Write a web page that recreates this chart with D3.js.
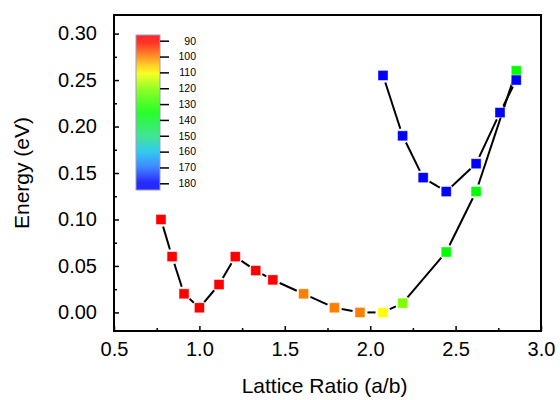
<!DOCTYPE html>
<html>
<head>
<meta charset="utf-8">
<script src="https://cdn.jsdelivr.net/npm/d3@7"></script>
<style>
  body { margin: 0; background: #fff; }
  svg text { font-family: "Liberation Sans", Arial, sans-serif; }
</style>
</head>
<body>
<div id="chart"></div>
<script>
// lower branch (a/b, energy, angle in degrees)
const lowRatio  = [0.775, 0.84, 0.91, 1.0, 1.115, 1.21, 1.33, 1.43, 1.61, 1.79, 1.94, 2.075, 2.19, 2.445, 2.62, 2.855];
const lowEnergy = [0.100, 0.060, 0.020, 0.005, 0.030, 0.060, 0.045, 0.035, 0.020, 0.005, 0.000, 0.000, 0.010, 0.065, 0.130, 0.260];
const lowAngle  = [90, 90, 90, 90, 90, 90, 90, 90, 100, 100, 100, 110, 120, 135, 135, 135];

// upper branch
const highRatio  = [2.075, 2.19, 2.31, 2.445, 2.62, 2.76, 2.855];
const highEnergy = [0.255, 0.190, 0.145, 0.130, 0.160, 0.215, 0.250];
const highAngle  = [180, 180, 180, 180, 180, 180, 180];

const xTicks = [0.5, 1.0, 1.5, 2.0, 2.5, 3.0];
const yTicks = [0.00, 0.05, 0.10, 0.15, 0.20, 0.25, 0.30];
const barTicks = [90, 100, 110, 120, 130, 140, 150, 160, 170, 180];

// dimensions
const W = 560, H = 400;
const plot = { left: 114, right: 541, top: 15, bottom: 331 };

const svg = d3.select('#chart').append('svg')
    .attr('width', W).attr('height', H);

const xScale = d3.scaleLinear().domain([0.5, 3.0]).range([plot.left, plot.right]);
const yScale = d3.scaleLinear().domain([-0.02, 0.32]).range([plot.bottom, plot.top]);

// rainbow colormap used for the symbols
const color = d3.scaleLinear()
    .domain([90, 100, 110, 120, 135, 150, 160, 170, 180])
    .range(['#ff0000', '#ff8000', '#ffff00', '#80ff00', '#00ff00', '#20e080', '#10c0f0', '#2070ff', '#0000ff']);

// axes
const xAxisGroup = svg.append('g').attr('transform', `translate(0, ${plot.bottom})`);
xAxisGroup.call(d3.axisBottom(xScale).tickValues(xTicks).tickFormat(d3.format('.1f'))
    .tickSize(-5).tickSizeOuter(0).tickPadding(11));
const xMinor = svg.append('g').attr('transform', `translate(0, ${plot.bottom})`);
xMinor.call(d3.axisBottom(xScale).tickValues(d3.range(0.75, 3.0, 0.5)).tickFormat('')
    .tickSize(-3).tickSizeOuter(0));

const yAxisGroup = svg.append('g').attr('transform', `translate(${plot.left}, 0)`);
yAxisGroup.call(d3.axisLeft(yScale).tickValues(yTicks).tickFormat(d3.format('.2f'))
    .tickSize(-5).tickSizeOuter(0).tickPadding(17));
const yMinor = svg.append('g').attr('transform', `translate(${plot.left}, 0)`);
yMinor.call(d3.axisLeft(yScale).tickValues(d3.range(0.025, 0.32, 0.05).map(v => +v.toFixed(3))).tickFormat('')
    .tickSize(-3).tickSizeOuter(0));

svg.selectAll('.domain').remove();
svg.selectAll('.tick line').attr('stroke', '#000').attr('stroke-width', 1.5);
xAxisGroup.selectAll('text').attr('font-size', 20).attr('fill', '#000');
yAxisGroup.selectAll('text').attr('font-size', 20).attr('fill', '#000');

// frame
svg.append('rect')
    .attr('x', plot.left).attr('y', plot.top)
    .attr('width', plot.right - plot.left).attr('height', plot.bottom - plot.top)
    .attr('fill', 'none').attr('stroke', '#000').attr('stroke-width', 2);

// axis titles
svg.append('text')
    .attr('x', (plot.left + plot.right) / 2 - 3).attr('y', 393)
    .attr('text-anchor', 'middle').attr('font-size', 21)
    .text('Lattice Ratio (a/b)');
svg.append('text')
    .attr('transform', `translate(29, ${(plot.top + plot.bottom) / 2}) rotate(-90)`)
    .attr('text-anchor', 'middle').attr('font-size', 21)
    .text('Energy (eV)');

// connecting lines, with a small gap around each symbol
const elementGroup = svg.append('g');
const gap = 7.5;
function drawSegments(xs, ys) {
    for (let i = 0; i < xs.length - 1; i++) {
        const x1 = xScale(xs[i]), y1 = yScale(ys[i]);
        const x2 = xScale(xs[i + 1]), y2 = yScale(ys[i + 1]);
        const len = Math.hypot(x2 - x1, y2 - y1);
        if (len <= 2 * gap) continue;
        const ux = (x2 - x1) / len, uy = (y2 - y1) / len;
        elementGroup.append('line')
            .attr('x1', x1 + ux * gap).attr('y1', y1 + uy * gap)
            .attr('x2', x2 - ux * gap).attr('y2', y2 - uy * gap)
            .attr('stroke', '#000').attr('stroke-width', 2);
    }
}
drawSegments(lowRatio, lowEnergy);
drawSegments(highRatio, highEnergy);

// symbols
const sq = 10;
function drawSymbols(xs, ys, angles) {
    elementGroup.selectAll(null)
        .data(xs.map((x, i) => ({ x: x, e: ys[i], a: angles[i] })))
        .enter()
        .append('rect')
        .attr('x', d => xScale(d.x) - sq / 2)
        .attr('y', d => yScale(d.e) - sq / 2)
        .attr('width', sq).attr('height', sq)
        .attr('fill', d => color(d.a))
        .attr('stroke', '#fff').attr('stroke-opacity', 0.5).attr('stroke-width', 0.8);
}
drawSymbols(lowRatio, lowEnergy, lowAngle);
drawSymbols(highRatio, highEnergy, highAngle);

// colour bar
const bar = { x: 136, y: 35, w: 24, h: 155 };
const barScale = d3.scaleLinear().domain([90, 180]).range([40.7, 183.3]);
const grad = svg.append('defs').append('linearGradient')
    .attr('id', 'cbar').attr('x1', 0).attr('y1', 0).attr('x2', 0).attr('y2', 1);
const v0 = barScale.invert(bar.y), v1 = barScale.invert(bar.y + bar.h);
d3.range(0, 1.0001, 0.05).forEach(t => {
    grad.append('stop')
        .attr('offset', t)
        .attr('stop-color', color(Math.max(90, Math.min(180, v0 + t * (v1 - v0)))));
});
svg.append('rect')
    .attr('x', bar.x).attr('y', bar.y).attr('width', bar.w).attr('height', bar.h)
    .attr('fill', 'url(#cbar)').attr('fill-opacity', 0.85)
    .attr('stroke', '#9aa0c8').attr('stroke-width', 1);

const barAxis = svg.append('g').attr('transform', `translate(${bar.x + bar.w}, 0)`);
barAxis.call(d3.axisRight(barScale).tickValues(barTicks).tickSize(9).tickSizeOuter(0).tickPadding(27));
barAxis.select('.domain').remove();
barAxis.selectAll('.tick line').attr('stroke', '#000').attr('stroke-width', 1.5);
barAxis.selectAll('text')
    .attr('text-anchor', 'end')
    .attr('font-family', '"DejaVu Sans", sans-serif')
    .attr('font-size', 10.5).attr('fill', '#000');
</script>
</body>
</html>
